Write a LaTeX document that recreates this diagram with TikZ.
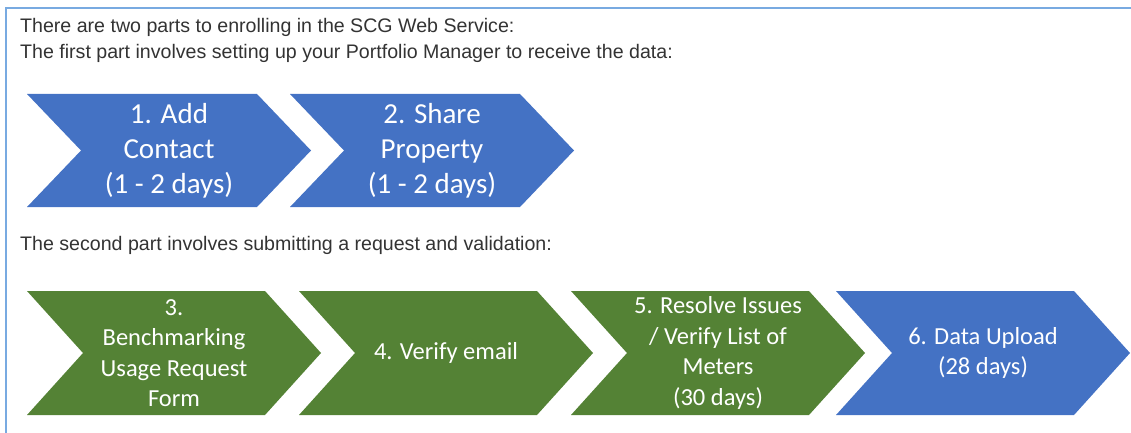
\documentclass[tikz,border=0pt]{standalone}
\usepackage{fontspec}
\setmainfont{Liberation Sans}
\newfontfamily\stepfont{Carlito}
\definecolor{StepBlue}{RGB}{68,114,196}
\definecolor{StepGreen}{RGB}{84,130,53}
\definecolor{FrameBlue}{RGB}{120,170,225}
\usetikzlibrary{positioning}
\tikzset{
	intro/.style={
		anchor=base west,
		inner sep=0pt,
		text=black!80,
		font=\fontsize{19.6}{23}\selectfont},
	steptext/.style={
		text=white,
		align=center,
		inner sep=0pt},
	bigstep/.style={steptext, font=\stepfont\fontsize{29}{35}\selectfont},
	smallstep/.style={steptext, font=\stepfont\fontsize{24.5}{30.5}\selectfont},
}
% chevron: left x, top y, width, depth, half height, colour
\newcommand*\chevron[6]{
	\fill[#6] (#1,#2) -- ++(#3-#4,0) -- ++(#4,#5) -- ++(-#4,#5)
	-- ++(-#3+#4,0) -- ++(#4,-#5) -- cycle;}

\begin{document}
\begin{tikzpicture}[x=1pt,y=-1pt]
\useasboundingbox (0,0) rectangle (1131,433);
\draw[FrameBlue, line width=1.6pt] (6,433) -- (6,8) -- (1131,8);

\node[intro] (intro1) at (20,33) {There are two parts to enrolling in the SCG Web Service:};
\node[intro] (intro2) at (20,59) {The first part involves setting up your Portfolio Manager to receive the data:};
\node[intro] (intro3) at (20,250) {The second part involves submitting a request and validation:};

% first part
\foreach \lx in {27,290}
	\chevron{\lx}{94}{284}{54}{56.5}{StepBlue};
\node[bigstep] (step1) at (169,150.5) {1. Add\\Contact\\(1 - 2 days)};
\node[bigstep] (step2) at (432,150.5) {2. Share\\Property\\(1 - 2 days)};

% second part
\foreach \lx/\col in {27/StepGreen,299/StepGreen,571/StepGreen,836/StepBlue}
	\chevron{\lx}{291}{294}{56}{62}{\col};
\node[smallstep] (step3) at (174,353) {3.\\Benchmarking\\Usage Request\\Form};
\node[smallstep] (step4) at (446,353) {4. Verify email};
\node[smallstep] (step5) at (718,353) {5. Resolve Issues\\/ Verify List of\\Meters\\(30 days)};
\node[smallstep] (step6) at (983,353) {6. Data Upload\\(28 days)};
\end{tikzpicture}
\end{document}
